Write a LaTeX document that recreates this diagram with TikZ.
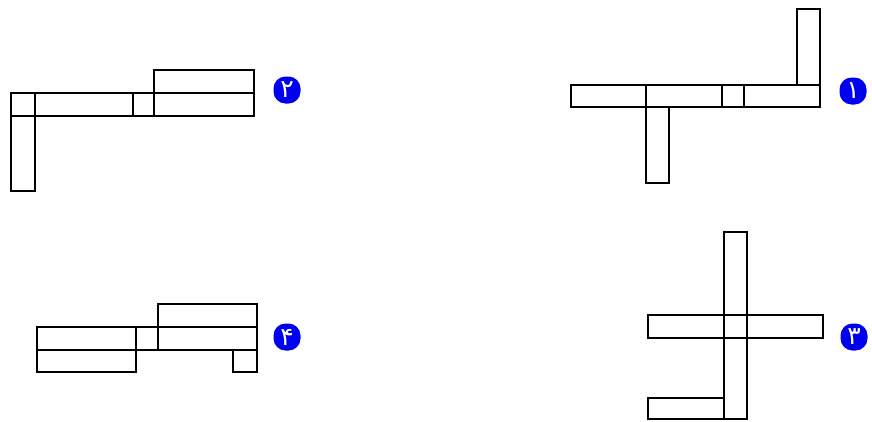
\documentclass[tikz,border=0pt]{standalone}
\usepackage{fontspec}
\usepackage{xcolor}
\usepackage{tikz}
\newfontfamily\arabicfont[Script=Arabic]{DejaVu Sans}
\TeXXeTstate=1
\definecolor{numblue}{HTML}{0000F0}

\begin{document}
\begin{tikzpicture}[x=1pt,y=-1pt,
  bar/.style={draw,line width=2.4pt},
  num/.style={fill=numblue,text=white,rounded corners=12pt,minimum size=27pt,
              inner sep=0pt,font=\arabicfont\fontsize{25}{25}\selectfont}]
  \useasboundingbox (0,0) rectangle (872,421);
  % shape 1
  \draw[bar] (571,85) rectangle (646,107);
  \draw[bar] (646,85) rectangle (722,107);
  \draw[bar] (722,85) rectangle (744,107);
  \draw[bar] (744,85) rectangle (820,107);
  \draw[bar] (797,9) rectangle (820,85);
  \draw[bar] (646,107) rectangle (669,183);
  \node[num] (n1) at (853,91) {\beginR ۱\endR};
  % shape 2
  \draw[bar] (11,93) rectangle (35,116);
  \draw[bar] (35,93) rectangle (133,116);
  \draw[bar] (133,93) rectangle (154,116);
  \draw[bar] (154,93) rectangle (254,116);
  \draw[bar] (154,70) rectangle (254,93);
  \draw[bar] (11,116) rectangle (35,191);
  \node[num] (n2) at (287,90) {\beginR ۲\endR};
  % shape 3
  \draw[bar] (724,232) rectangle (747,315);
  \draw[bar] (724,315) rectangle (747,338);
  \draw[bar] (724,338) rectangle (747,419);
  \draw[bar] (648,315) rectangle (724,338);
  \draw[bar] (747,315) rectangle (823,338);
  \draw[bar] (648,398) rectangle (724,419);
  \node[num] (n3) at (854,337) {\beginR ۳\endR};
  % shape 4
  \draw[bar] (158,304) rectangle (257,327);
  \draw[bar] (37,327) rectangle (136,350);
  \draw[bar] (136,327) rectangle (158,350);
  \draw[bar] (158,327) rectangle (257,350);
  \draw[bar] (37,350) rectangle (136,372);
  \draw[bar] (233,350) rectangle (257,372);
  \node[num] (n4) at (287,337) {\beginR ۴\endR};
\end{tikzpicture}
\end{document}
